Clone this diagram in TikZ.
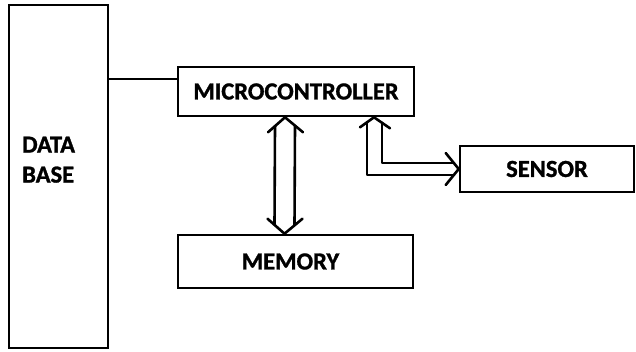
\documentclass[tikz,border=0pt]{standalone}
\usepackage{fontspec}
\setmainfont{Carlito}[BoldFeatures={FakeBold=1.2}]
\usetikzlibrary{calc}
\begin{document}
\begin{tikzpicture}[x=1pt,y=-1pt,
  lbl/.style={font=\fontsize{24.5}{30}\selectfont\bfseries},
  box/.style={draw, line width=2.6pt, inner sep=0pt, lbl},
  wire/.style={line width=2.6pt, line join=round, line cap=round}]
\useasboundingbox (0,0) rectangle (636,352);
% boxes
\node[box, minimum width=99pt, minimum height=343pt] (db) at (58.5,176.5) {};
\node[lbl, align=left, anchor=north west, inner sep=0pt] (dbt) at (22,136.5) {DATA\\BASE};
\node[box, minimum width=236pt, minimum height=49pt] (mc) at (296,91.5) {MICROCONTROLLER};
\node[box, minimum width=235pt, minimum height=53pt] (mem) at (295.5,261.5) {MEMORY\kern10pt};
\node[box, minimum width=174pt, minimum height=46pt] (sen) at (547,169) {SENSOR};
% database to microcontroller
\coordinate (l1) at ($(mc.west)+(0,-12.5)$);
\draw[wire] (db.east |- l1) -- (l1);
% microcontroller <-> memory
\coordinate (vt) at ($(mc.south)+(-11,0)$);
\coordinate (vb) at ($(mem.north)+(-11,0)$);
\draw[wire] ($(vt)+(-17,15)$) -- (vt) -- ($(vt)+(18,15)$);
\draw[wire] ($(vt)+(-10,8.8)$) -- ($(vb)+(-10,-8.8)$);
\draw[wire] ($(vt)+(10,8.3)$) -- ($(vb)+(10,-8.3)$);
\draw[wire] ($(vb)+(-17,-15)$) -- (vb) -- ($(vb)+(18,-15)$);
% microcontroller <-> sensor
\coordinate (lt) at ($(mc.south)+(78,0)$);
\coordinate (rt) at (sen.west);
\draw[wire] ($(lt)+(-14,10)$) -- (lt) -- ($(lt)+(16,11)$);
\draw[wire] ($(rt)+(-13,-16)$) -- (rt) -- ($(rt)+(-13,16)$);
\draw[wire] ($(lt)+(-7,5)$) |- ($(rt)+(-4.9,6)$);
\draw[wire] ($(lt)+(8,5.5)$) |- ($(rt)+(-4.9,-6)$);
\end{tikzpicture}
\end{document}
